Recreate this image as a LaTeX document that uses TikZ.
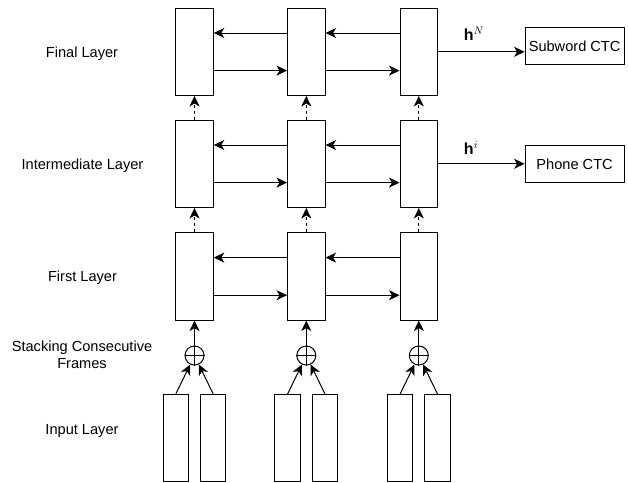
\documentclass[tikz,border=0pt]{standalone}
\usepackage{fontspec}
\setmainfont{Liberation Sans}
\usetikzlibrary{arrows.meta,calc}
\begin{document}
\begin{tikzpicture}[x=1pt,y=-1pt,line width=1pt,
  every node/.style={font=\fontsize{14.6}{17}\selectfont},
  layerbox/.style={draw,rectangle,minimum width=37.6pt,minimum height=87.3pt,inner sep=0pt},
  inbox/.style={draw,rectangle,minimum width=25.3pt,minimum height=86.3pt,inner sep=0pt},
  outbox/.style={draw,rectangle,minimum width=99pt,minimum height=37pt,inner sep=0pt},
  sumnode/.style={draw,circle,minimum size=19pt,inner sep=0pt},
  arr/.style={-{Stealth[length=10.5pt,width=10pt,inset=3pt]}},
  dasharr/.style={arr,dash pattern=on 3pt off 3pt},
  lbl/.style={align=center}]
\useasboundingbox (0,0) rectangle (628,482);
% layer boxes
\foreach \c/\x in {1/194.5,2/306.3,3/418.8}{
  \node[layerbox] (f\c) at (\x,51.8) {};
  \node[layerbox] (m\c) at (\x,163.8) {};
  \node[layerbox] (s\c) at (\x,276.4) {};
  \node[sumnode] (c\c) at (\x,355.5) {};
  \node[inbox] (ia\c) at (\x-18.8,437.9) {};
  \node[inbox] (ib\c) at (\x+18.8,437.9) {};
}
% horizontal arrows
\foreach \l in {f,m,s}{
  \draw[arr] ([yshift=18.8pt]\l2.west) -- ([yshift=18.8pt]\l1.east);
  \draw[arr] ([yshift=18.8pt]\l3.west) -- ([yshift=18.8pt]\l2.east);
  \draw[arr] ([yshift=-18.8pt]\l1.east) -- ([yshift=-18.8pt]\l2.west);
  \draw[arr] ([yshift=-18.8pt]\l2.east) -- ([yshift=-18.8pt]\l3.west);
}
% vertical connections
\foreach \c in {1,2,3}{
  \draw[dasharr] (s\c.north) -- (m\c.south);
  \draw[dasharr] (m\c.north) -- (f\c.south);
  \draw[arr] (c\c.north) -- (s\c.south);
  \draw (c\c.north) -- (c\c.south) (c\c.west) -- (c\c.east);
  \draw[arr] (ia\c.north) -- (c\c);
  \draw[arr] (ib\c.north) -- (c\c);
}
% outputs
\node[outbox] (sub) at (574.6,45.8) {Subword CTC};
\node[outbox] (pho) at (574.6,164.2) {Phone CTC};
\draw[arr] (f3.east) -- (f3.east -| sub.west);
\draw[arr] (m3.east) -- (m3.east -| pho.west);
\node (hN) at (474,34) {\fontsize{16}{18}\selectfont$\mathbf{h}^N$};
\node (hi) at (471,148) {\fontsize{16}{18}\selectfont$\mathbf{h}^i$};
% left labels
\node[lbl] (lf) at (82,53.5) {Final Layer};
\node[lbl] (lm) at (82.5,165.5) {Intermediate Layer};
\node[lbl] (ls) at (82.5,278) {First Layer};
\node[lbl] (lc) at (82,355) {Stacking Consecutive\\Frames};
\node[lbl] (li) at (82,431) {Input Layer};
\end{tikzpicture}
\end{document}
